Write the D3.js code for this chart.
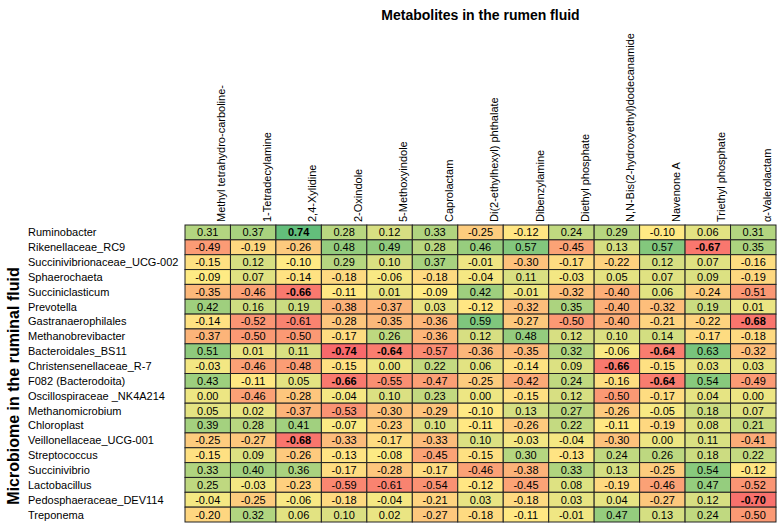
<!DOCTYPE html>
<html>
<head>
    <style>
        body { margin: 0; background: #fff; }
        svg text { font-family: Arial, "Liberation Sans", sans-serif; fill: #000; }
        .cell text { font-size: 11px; text-anchor: middle; }
        .rowlab { font-size: 11px; }
        .collab { font-size: 11px; }
        .title { font-size: 14px; font-weight: bold; }
        .ytitle { font-size: 16px; font-weight: bold; }
    </style>
    <script src="https://d3js.org/d3.v7.min.js"></script>
</head>
<body>
<svg width="784" height="532"></svg>
<script>
    // metabolites (columns)
    var metabolites = ["Methyl tetrahydro-carboline-", "1-Tetradecylamine", "2,4-Xylidine", "2-Oxindole",
        "5-Methoxyindole", "Caprolactam", "Di(2-ethylhexyl) phthalate", "Dibenzylamine", "Diethyl phosphate",
        "N,N-Bis(2-hydroxyethyl)dodecanamide", "Navenone A", "Triethyl phosphate", "\u03b1-Valerolactam"];

    // microbes (rows)
    var microbes = ["Ruminobacter", "Rikenellaceae_RC9", "Succinivibrionaceae_UCG-002", "Sphaerochaeta",
        "Succiniclasticum", "Prevotella", "Gastranaerophilales", "Methanobrevibacter", "Bacteroidales_BS11",
        "Christensenellaceae_R-7", "F082 (Bacterodoita)", "Oscillospiraceae _NK4A214", "Methanomicrobium",
        "Chloroplast", "Veillonellaceae_UCG-001", "Streptococcus", "Succinivibrio", "Lactobacillus",
        "Pedosphaeraceae_DEV114", "Treponema"];

    // correlation values, one row per microbe
    var values = [
        [0.31, 0.37, 0.74, 0.28, 0.12, 0.33, -0.25, -0.12, 0.24, 0.29, -0.10, 0.06, 0.31],
        [-0.49, -0.19, -0.26, 0.48, 0.49, 0.28, 0.46, 0.57, -0.45, 0.13, 0.57, -0.67, 0.35],
        [-0.15, 0.12, -0.10, 0.29, 0.10, 0.37, -0.01, -0.30, -0.17, -0.22, 0.12, 0.07, -0.16],
        [-0.09, 0.07, -0.14, -0.18, -0.06, -0.18, -0.04, 0.11, -0.03, 0.05, 0.07, 0.09, -0.19],
        [-0.35, -0.46, -0.66, -0.11, 0.01, -0.09, 0.42, -0.01, -0.32, -0.40, 0.06, -0.24, -0.51],
        [0.42, 0.16, 0.19, -0.38, -0.37, 0.03, -0.12, -0.32, 0.35, -0.40, -0.32, 0.19, 0.01],
        [-0.14, -0.52, -0.61, -0.28, -0.35, -0.36, 0.59, -0.27, -0.50, -0.40, -0.21, -0.22, -0.68],
        [-0.37, -0.50, -0.50, -0.17, 0.26, -0.36, 0.12, 0.48, 0.12, 0.10, 0.14, -0.17, -0.18],
        [0.51, 0.01, 0.11, -0.74, -0.64, -0.57, -0.36, -0.35, 0.32, -0.06, -0.64, 0.63, -0.32],
        [-0.03, -0.46, -0.48, -0.15, 0.00, 0.22, 0.06, -0.14, 0.09, -0.66, -0.15, 0.03, 0.03],
        [0.43, -0.11, 0.05, -0.66, -0.55, -0.47, -0.25, -0.42, 0.24, -0.16, -0.64, 0.54, -0.49],
        [0.00, -0.46, -0.28, -0.04, 0.10, 0.23, 0.00, -0.15, 0.12, -0.50, -0.17, 0.04, 0.00],
        [0.05, 0.02, -0.37, -0.53, -0.30, -0.29, -0.10, 0.13, 0.27, -0.26, -0.05, 0.18, 0.07],
        [0.39, 0.28, 0.41, -0.07, -0.23, 0.10, -0.11, -0.26, 0.22, -0.11, -0.19, 0.08, 0.21],
        [-0.25, -0.27, -0.68, -0.33, -0.17, -0.33, 0.10, -0.03, -0.04, -0.30, 0.00, 0.11, -0.41],
        [-0.15, 0.09, -0.26, -0.13, -0.08, -0.45, -0.15, 0.30, -0.13, 0.24, 0.26, 0.18, 0.22],
        [0.33, 0.40, 0.36, -0.17, -0.28, -0.17, -0.46, -0.38, 0.33, 0.13, -0.25, 0.54, -0.12],
        [0.25, -0.03, -0.23, -0.59, -0.61, -0.54, -0.12, -0.45, 0.08, -0.19, -0.46, 0.47, -0.52],
        [-0.04, -0.25, -0.06, -0.18, -0.04, -0.21, 0.03, -0.18, 0.03, 0.04, -0.27, 0.12, -0.70],
        [-0.20, 0.32, 0.06, 0.10, 0.02, -0.27, -0.18, -0.11, -0.01, 0.47, 0.13, 0.24, -0.50]
    ];

    var svg = d3.select("svg");
    var gridLeft = 185, gridRight = 776, gridTop = 225, gridBottom = 522;

    var x = d3.scaleBand().domain(metabolites).range([gridLeft, gridRight]);
    var y = d3.scaleBand().domain(microbes).range([gridTop, gridBottom]);

    // flatten for cells
    var cells = [];
    values.forEach(function(row, i) {
        row.forEach(function(v, j) {
            cells.push({ row: microbes[i], col: metabolites[j], value: v });
        });
    });

    var all = cells.map(function(d) { return d.value; });
    var color = d3.scaleLinear()
        .domain([d3.min(all), d3.median(all), d3.max(all)])
        .range(["#f8696b", "#ffeb84", "#63be7b"]);

    var cell = svg.selectAll(".cell")
        .data(cells)
        .enter().append("g")
        .attr("class", "cell");

    cell.append("rect")
        .attr("x", function(d) { return x(d.col); })
        .attr("y", function(d) { return y(d.row); })
        .attr("width", x.bandwidth())
        .attr("height", y.bandwidth())
        .attr("fill", function(d) { return color(d.value); })
        .attr("stroke", "#222")
        .attr("stroke-width", 1);

    cell.append("text")
        .attr("x", function(d) { return x(d.col) + x.bandwidth() / 2; })
        .attr("y", function(d) { return y(d.row) + y.bandwidth() / 2; })
        .attr("dy", "0.36em")
        .style("font-weight", function(d) { return Math.abs(d.value) >= 0.64 ? "bold" : "normal"; })
        .text(function(d) { return d.value.toFixed(2); });

    // row labels
    svg.selectAll(".rowlab")
        .data(microbes)
        .enter().append("text")
        .attr("class", "rowlab")
        .attr("x", 28)
        .attr("y", function(d) { return y(d) + y.bandwidth() / 2; })
        .attr("dy", "0.36em")
        .text(function(d) { return d; });

    // column labels, rotated
    svg.selectAll(".collab")
        .data(metabolites)
        .enter().append("text")
        .attr("class", "collab")
        .attr("transform", function(d) {
            return "translate(" + (x(d) + x.bandwidth() * 0.8) + "," + (gridTop - 3) + ") rotate(-90)";
        })
        .attr("dy", "0.36em")
        .text(function(d) { return d; });

    svg.append("text")
        .attr("class", "title")
        .attr("x", (gridLeft + gridRight) / 2)
        .attr("y", 20)
        .attr("text-anchor", "middle")
        .text("Metabolites in the rumen fluid");

    svg.append("text")
        .attr("class", "ytitle")
        .attr("transform", "translate(19,386) rotate(-90)")
        .attr("text-anchor", "middle")
        .text("Microbiome in the ruminal fluid");
</script>
</body>
</html>
